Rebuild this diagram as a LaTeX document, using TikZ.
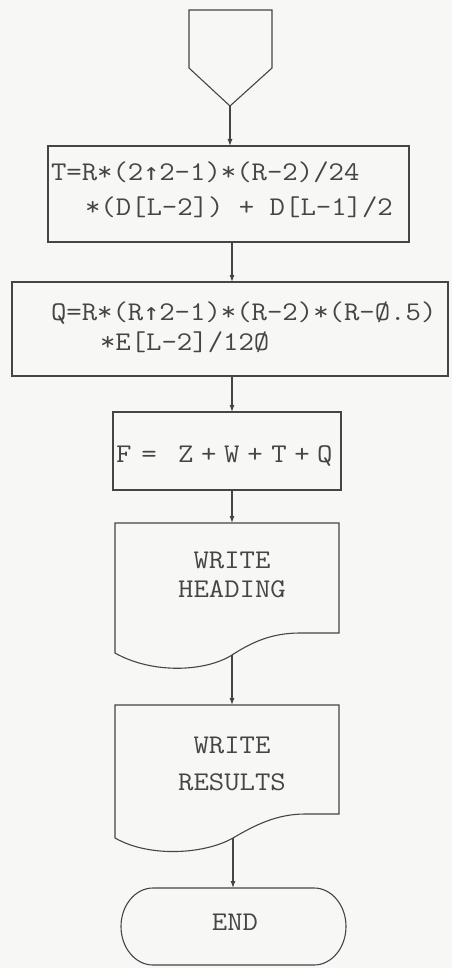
\documentclass[tikz,border=0pt]{standalone}
\usepackage{fontspec}
\newfontfamily\uparrowfont{DejaVu Sans Mono}
\usetikzlibrary{arrows.meta,calc}
\definecolor{paper}{HTML}{F7F7F5}
\definecolor{ink}{HTML}{454545}
% typewriter lines: Latin Modern Mono, widened to a 15.7pt pitch
\newcommand{\tw}[1]{\scalebox{1.107}[1]{#1}}
\newcommand{\up}{{\uparrowfont\fontsize{24}{28}\selectfont ↑}}
\tikzset{
  line/.style={draw=ink, line width=1.1pt, line join=miter},
  box/.style={line, rectangle, inner sep=0pt, outer sep=0pt},
  txt/.style={text=ink, font=\fontsize{27}{31}\selectfont\ttfamily, inner sep=0pt, outer sep=0pt},
  arr/.style={draw=ink, line width=1.1pt, -{Latex[length=7pt,width=5pt]}},
}
\begin{document}
\begin{tikzpicture}[x=1pt,y=-1pt]
\fill[paper] (0,0) rectangle (452,968);
\useasboundingbox (0,0) rectangle (452,968);
\coordinate (axis) at (232,0);

% off-page connector at the start
\draw[line] (189,10) -- (272,10) -- (272,68) -- (230,106) coordinate (conTip) -- (189,68) -- cycle;

% T computation
\node[box, minimum width=361pt, minimum height=96pt, anchor=north west] (tbox) at (48,146) {};
\node[txt, anchor=base west] (t1) at (51,181) {\tw{T=R*(2\up2-1)*(R-2)/24}};
\node[txt, anchor=base west] (t2) at (85,215) {\tw{*(D[L-2]) + D[L-1]/2}};
\draw[arr] (conTip) -- (conTip |- tbox.north);

% Q computation
\node[box, minimum width=436pt, minimum height=94pt, anchor=north west] (qbox) at (12,282) {};
\node[txt, anchor=base west] (q1) at (51,320) {\tw{Q=R*(R\up2-1)*(R-2)*(R-Ø.5)}};
\node[txt, anchor=base west] (q2) at (100,350) {\tw{*E[L-2]/12Ø}};
\draw[arr] (tbox.south -| axis) -- (qbox.north -| axis);

% F sum
\node[box, minimum width=228pt, minimum height=78pt, anchor=north west] (fbox) at (113,412) {};
\node[txt, anchor=base west] (f1) at (116,462) {\tw{F\hspace{9pt}=\hspace{19.4pt}Z\hspace{6.8pt}+\hspace{6.8pt}W\hspace{7.2pt}+\hspace{7.7pt}T\hspace{6.8pt}+\hspace{6.8pt}Q}};
\draw[arr] (qbox.south -| axis) -- (fbox.north -| axis);

% document: write heading
\draw[line] (115,523) coordinate (hTL) -- (339,523) -- (339,633) -- (300,633)
  .. controls (272,633) and (252,642) .. (232,655) coordinate (hWave)
  .. controls (205,672) and (152,674) .. (115,653) -- cycle;
\node[txt, anchor=base] (h1) at (232,568) {\tw{WRITE}};
\node[txt, anchor=base] (h2) at (232,597) {\tw{HEADING}};
\draw[arr] (fbox.south -| axis) -- (axis |- hTL);

% document: write results
\draw[line] (115,705) coordinate (rTL) -- (339,705) -- (339,814) -- (305,814)
  .. controls (277,814) and (255,825) .. (233,838) coordinate (rWave)
  .. controls (205,854) and (150,858) .. (115,838) -- cycle;
\node[txt, anchor=base] (r1) at (232,753) {\tw{WRITE}};
\node[txt, anchor=base] (r2) at (232,790) {\tw{RESULTS}};
\draw[arr] (hWave) -- (hWave |- rTL);

% terminator
\draw[line] (153,888) coordinate (endTop) -- (314,888)
  arc[start angle=90, end angle=-90, x radius=32pt, y radius=38.5pt]
  -- (153,965)
  arc[start angle=270, end angle=90, x radius=32pt, y radius=38.5pt] -- cycle;
\node[txt, anchor=base] (e1) at (235,930) {\tw{END}};
\draw[arr] (rWave) -- (rWave |- endTop);
\end{tikzpicture}
\end{document}
